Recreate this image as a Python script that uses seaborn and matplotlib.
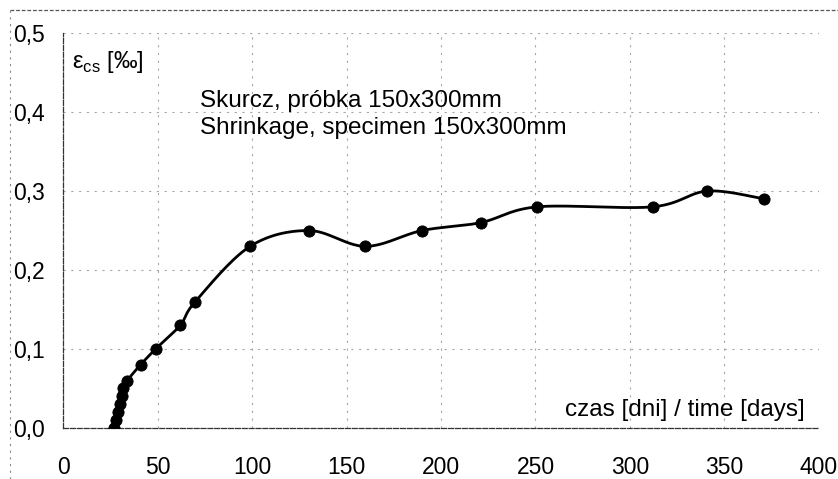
import numpy as np
import pandas as pd
import matplotlib
matplotlib.use("Agg")
import matplotlib.pyplot as plt
import seaborn as sns

# czas [dni] i skurcz [promile]
days = [27, 28, 29, 30, 31, 32, 34, 41, 49, 62, 70, 99, 130, 160, 190, 221, 251, 312, 341, 371]
shrinkage = [0.00, 0.01, 0.02, 0.03, 0.04, 0.05, 0.06, 0.08, 0.10, 0.13, 0.16, 0.23, 0.25, 0.23,
             0.25, 0.26, 0.28, 0.28, 0.30, 0.29]
x_ticks = [0, 50, 100, 150, 200, 250, 300, 350, 400]
y_ticks = [0.0, 0.1, 0.2, 0.3, 0.4, 0.5]
title_pl = "Skurcz, próbka 150x300mm"
title_en = "Shrinkage, specimen 150x300mm"
x_label = "czas [dni] / time [days]"


def smooth(x, y, n=30):
    # wygladzanie jak w Excelu (Catmull-Rom / Bezier)
    p = np.column_stack([x, y]).astype(float)
    p = np.vstack([p[0], p, p[-1]])
    out = []
    t = np.linspace(0, 1, n)[:, None]
    for i in range(1, len(p) - 2):
        p0, p1, p2, p3 = p[i - 1], p[i], p[i + 1], p[i + 2]
        b1 = p1 + (p2 - p0) / 6
        b2 = p2 - (p3 - p1) / 6
        seg = ((1 - t) ** 3) * p1 + 3 * ((1 - t) ** 2) * t * b1 + 3 * (1 - t) * t ** 2 * b2 + t ** 3 * p2
        out.append(seg)
    return np.vstack(out)


sns.set_theme(style="white")
plt.rcParams['font.family'] = ['Liberation Sans', 'DejaVu Sans']
plt.rcParams['mathtext.fontset'] = 'custom'
plt.rcParams['mathtext.rm'] = 'Liberation Sans'
plt.rcParams['text.color'] = 'black'
plt.rcParams['xtick.color'] = 'black'
plt.rcParams['ytick.color'] = 'black'

fig = plt.figure(figsize=(8.38, 4.79), dpi=100)
ax = fig.add_axes([0.0752, 0.1065, 0.9021, 0.8245])

curve = smooth(days, shrinkage)
df_curve = pd.DataFrame({"t": curve[:, 0], "e": curve[:, 1]})
df = pd.DataFrame({"t": days, "e": shrinkage})

sns.lineplot(data=df_curve, x="t", y="e", sort=False, color="black", linewidth=2.0, ax=ax)
sns.scatterplot(data=df, x="t", y="e", color="black", s=65, edgecolor="black", zorder=3, ax=ax)

ax.set_xlim(0, 400)
ax.set_ylim(0, 0.5)
ax.set_xticks(x_ticks)
ax.set_yticks(y_ticks)
ax.set_xticklabels([str(v) for v in x_ticks], fontsize=16.5)
ax.set_yticklabels([f"{v:.1f}".replace(".", ",") for v in y_ticks], fontsize=16.5)
ax.set_xlabel("")
ax.set_ylabel("")
ax.tick_params(axis="both", direction="inout", length=6, width=0.8, colors="black")
ax.tick_params(axis="x", pad=17)
ax.tick_params(axis="y", pad=10)

ax.grid(True, color="#a8a8a8", linestyle=(0, (2, 5)), linewidth=0.8)
for side in ["top", "right"]:
    ax.spines[side].set_visible(False)
for side in ["left", "bottom"]:
    ax.spines[side].set_color("#333333")
    ax.spines[side].set_linestyle((0, (4, 1.5)))
    ax.spines[side].set_linewidth(0.9)

ax.text(72 / 838, 1 - 62 / 479, r"ε$_{\rm cs}$ [‰]", transform=fig.transFigure,
        fontsize=17, va="center", ha="left")
ax.text(200 / 838, 1 - 101 / 479, title_pl, transform=fig.transFigure,
        fontsize=17.5, va="center", ha="left")
ax.text(200 / 838, 1 - 128 / 479, title_en, transform=fig.transFigure,
        fontsize=17.5, va="center", ha="left")
ax.text(805 / 838, 1 - 410 / 479, x_label, transform=fig.transFigure,
        fontsize=17.5, va="center", ha="right")

# ramka wykresu (zeskanowana)
fig.add_artist(plt.Line2D([10 / 838, 1], [1 - 10 / 479] * 2, transform=fig.transFigure,
                          color="#555555", linestyle=(0, (3, 1.5)), linewidth=0.9))
fig.add_artist(plt.Line2D([10 / 838] * 2, [0, 1 - 10 / 479], transform=fig.transFigure,
                          color="#888888", linestyle=(0, (2, 4)), linewidth=0.8))

fig.savefig("out.png", dpi=100)
